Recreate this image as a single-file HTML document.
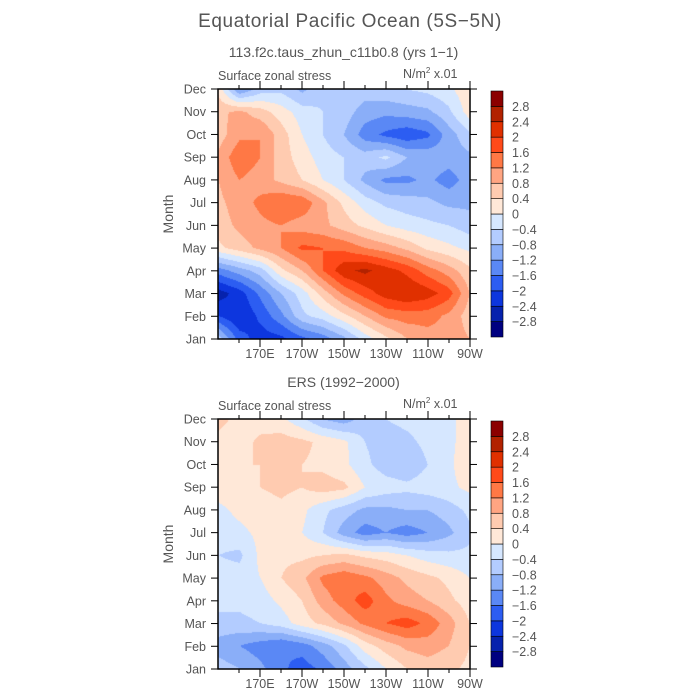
<!DOCTYPE html>
<html><head><meta charset="utf-8">
<style>
body{margin:0;background:#fff;}
#wrap{position:relative;width:700px;height:700px;overflow:hidden;font-family:"Liberation Sans",sans-serif;color:#555;}
.t{position:absolute;white-space:nowrap;}
canvas{position:absolute;}
svg{position:absolute;left:0;top:0;}
</style></head><body>
<div id="wrap">
<div class="t" style="left:189px;top:11px;width:322px;text-align:center;font-size:19px;letter-spacing:0.6px;color:#555;">Equatorial Pacific Ocean (5S&#8722;5N)</div>
<div class="t" style="left:200px;top:44px;width:287px;text-align:center;font-size:14px;color:#555;">113.f2c.taus_zhun_c11b0.8 (yrs 1&#8722;1)</div>
<div class="t" style="left:218px;top:69px;font-size:12.5px;color:#555;">Surface zonal stress</div>
<div class="t" style="left:403px;top:66px;font-size:12.5px;color:#555;">N/m<sup style="font-size:8px">2</sup> x.01</div>
<div class="t" style="left:200px;top:374px;width:287px;text-align:center;font-size:14px;color:#555;">ERS (1992&#8722;2000)</div>
<div class="t" style="left:218px;top:399px;font-size:12.5px;color:#555;">Surface zonal stress</div>
<div class="t" style="left:403px;top:396px;font-size:12.5px;color:#555;">N/m<sup style="font-size:8px">2</sup> x.01</div>
<canvas id="c1" width="252" height="250" style="left:218px;top:89px;"></canvas>
<canvas id="c2" width="252" height="250" style="left:218px;top:419px;"></canvas>
<svg id="s" width="700" height="700"></svg>
</div>
<script>
const lons=[150,160,170,180,190,200,210,220,230,240,250,260,270];
const months=["Jan","Feb","Mar","Apr","May","Jun","Jul","Aug","Sep","Oct","Nov","Dec"];
const levels=[-2.8,-2.4,-2,-1.6,-1.2,-0.8,-0.4,0,0.4,0.8,1.2,1.6,2,2.4,2.8];
const levelLabels=["2.8","2.4","2","1.6","1.2","0.8","0.4","0","\u22120.4","\u22120.8","\u22121.2","\u22121.6","\u22122","\u22122.4","\u22122.8"];
const colors=["#000080","#0622AD","#0D36DE","#2C5DF2","#5A88F5","#8AAEF8","#B3CCFF","#D6E7FF","#FFE8D8","#FFCBB0","#FFA582","#FF7845","#FF4A1A","#E03000","#B22200","#8B0000"];
const xTickLabels=["170E","170W","150W","130W","110W","90W"];
const xTickLons=[170,190,210,230,250,270];
const modelData=[
[-0.6,-1.8,-2.2,-2.1,-1.7,-1.4,-0.9,-0.2,0.3,0.8,1.0,1.0,0.8],
[-2.0,-2.4,-1.9,-1.3,-0.5,-0.2,0.3,0.8,1.3,1.4,1.4,1.1,0.6],
[-2.6,-2.2,-1.5,-0.8,-0.2,0.6,1.3,1.8,2.2,2.4,2.2,1.8,0.8],
[-1.4,-1.0,-0.6,0.3,0.8,1.6,2.3,2.5,2.2,1.9,1.4,1.0,0.5],
[0.3,0.6,0.9,1.2,1.7,1.6,1.5,1.2,1.0,0.7,0.3,0.1,-0.1],
[0.6,0.9,1.1,1.2,1.0,0.9,0.6,0.3,0.0,-0.2,-0.3,-0.4,-0.6],
[0.7,1.0,1.3,1.6,1.5,0.9,0.3,-0.2,-0.5,-0.6,-0.7,-0.9,-0.9],
[0.8,1.2,1.0,0.7,0.4,0.0,-0.4,-0.9,-1.3,-1.3,-1.1,-1.4,-1.0],
[0.9,1.5,1.2,0.6,0.2,-0.2,-0.4,-0.6,-0.3,-0.8,-0.9,-1.0,-0.9],
[0.6,1.1,1.2,0.6,0.0,-0.4,-0.8,-1.4,-1.7,-1.9,-1.7,-1.0,-0.5],
[0.7,0.9,0.6,0.2,-0.2,-0.4,-0.6,-1.0,-1.1,-1.0,-0.9,-0.5,0.2],
[0.3,-1.2,-0.6,-0.5,-0.9,-0.5,-0.4,-0.6,-0.5,-0.4,-0.3,-0.1,0.3]];
const ersData=[
[-0.6,-0.8,-1.1,-1.5,-1.8,-1.5,-1.0,-0.5,0.0,0.4,0.6,0.5,0.3],
[-1.0,-1.2,-1.4,-1.6,-1.4,-1.0,-0.5,0.2,0.6,0.9,1.0,0.8,0.4],
[-0.5,-0.5,-0.4,-0.2,0.2,0.5,0.9,1.3,1.6,1.8,1.5,1.0,0.4],
[-0.3,-0.3,-0.2,0.1,0.4,1.0,1.4,1.8,1.3,1.0,0.8,0.5,0.2],
[-0.2,-0.2,0.0,0.4,0.7,1.3,1.5,1.3,1.0,0.7,0.5,0.3,0.0],
[-0.4,-0.5,0.1,0.3,0.3,0.4,0.5,0.3,0.2,0.0,-0.2,-0.3,-0.3],
[-0.2,-0.1,0.1,0.3,0.0,-0.4,-1.0,-1.4,-1.2,-1.4,-1.2,-0.9,-0.5],
[-0.1,0.1,0.2,0.3,0.1,-0.3,-0.6,-0.9,-0.9,-0.8,-0.8,-0.6,-0.3],
[0.2,0.3,0.4,0.5,0.4,0.6,0.5,0.0,-0.2,-0.3,-0.2,-0.1,0.1],
[0.3,0.4,0.4,0.5,0.4,0.3,0.1,-0.3,-0.6,-0.7,-0.4,-0.1,0.3],
[0.3,0.2,0.5,0.6,0.5,0.3,0.1,-0.4,-0.6,-0.5,-0.3,-0.1,0.2],
[0.5,0.3,0.2,0.1,-0.3,-0.8,-1.0,-0.6,-0.4,-0.3,-0.2,-0.1,0.2]];

const PX=218,PW=252,PH=250;
function xOf(lon){return PX+(lon-lons[0])/(lons[lons.length-1]-lons[0])*PW;}
function yOf(m,top){return top+PH-m/(months.length-1)*PH;}
function levelIndex(v){let i=0;while(i<levels.length&&v>=levels[i])i++;return i;}
function hex(c){return [parseInt(c.substr(1,2),16),parseInt(c.substr(3,2),16),parseInt(c.substr(5,2),16)];}
function drawField(id,data){
  const cv=document.getElementById(id),ctx=cv.getContext('2d');
  const img=ctx.createImageData(PW,PH);const nc=lons.length-1,nr=months.length-1;
  for(let py=0;py<PH;py++){for(let px=0;px<PW;px++){
    const fx=px/(PW-1)*nc,fy=(PH-1-py)/(PH-1)*nr;
    const i=Math.min(Math.floor(fx),nc-1),j=Math.min(Math.floor(fy),nr-1);
    const tx=fx-i,ty=fy-j;
    const v=data[j][i]*(1-tx)*(1-ty)+data[j][i+1]*tx*(1-ty)+data[j+1][i]*(1-tx)*ty+data[j+1][i+1]*tx*ty;
    const c=hex(colors[levelIndex(v)]);const k=(py*PW+px)*4;
    img.data[k]=c[0];img.data[k+1]=c[1];img.data[k+2]=c[2];img.data[k+3]=255;}}
  ctx.putImageData(img,0,0);
}
drawField('c1',modelData);drawField('c2',ersData);

const NS="http://www.w3.org/2000/svg";const svg=document.getElementById('s');
function mk(tag,attrs,parent){const e=document.createElementNS(NS,tag);for(const k in attrs)e.setAttribute(k,attrs[k]);(parent||svg).appendChild(e);return e;}
[89,419].forEach((top,pi)=>{
  const g=mk('g',{});
  
  
  const fr=mk('rect',{x:PX,y:top,width:PW,height:PH,fill:'none',stroke:'#000','stroke-width':1.5},g);
  
  
  months.forEach((m,i)=>{const y=yOf(i,top);
    mk('line',{x1:PX-7,x2:PX,y1:y,y2:y,stroke:'#000'},g);
    mk('line',{x1:PX+PW,x2:PX+PW+7,y1:y,y2:y,stroke:'#000'},g);
    const t=mk('text',{x:PX-12,y:y+4.5,'text-anchor':'end','font-size':12.5,fill:'#555','font-family':'Liberation Sans'},g);t.textContent=m;
    
    });
  for(let lon=160;lon<270;lon+=10){const x=xOf(lon);
    mk('line',{x1:x,x2:x,y1:top+PH,y2:top+PH+4,stroke:'#000'},g);mk('line',{x1:x,x2:x,y1:top-4,y2:top,stroke:'#000'},g);}
  xTickLons.forEach((lon,i)=>{const x=xOf(lon);
    mk('line',{x1:x,x2:x,y1:top+PH,y2:top+PH+8,stroke:'#000'},g);mk('line',{x1:x,x2:x,y1:top-8,y2:top,stroke:'#000'},g);
    const t=mk('text',{x:x,y:top+PH+19,'text-anchor':'middle','font-size':12.5,fill:'#555','font-family':'Liberation Sans'},g);t.textContent=xTickLabels[i];
    
    });
  const yl=mk('text',{x:0,y:0,transform:`translate(173,${top+PH/2}) rotate(-90)`,'text-anchor':'middle','font-size':14,fill:'#555','font-family':'Liberation Sans'},g);yl.textContent='Month';
  
  
  const cb=mk('g',{},g);
  
  
  const bh=(PH-4)/colors.length,cbTop=top+2;
  colors.forEach((c,i)=>{const r=mk('rect',{x:491,y:cbTop+(colors.length-1-i)*bh,width:12,height:bh,fill:c,stroke:'#000','stroke-width':0.6},cb);
    
    });
  levelLabels.forEach((l,i)=>{const t=mk('text',{x:512,y:cbTop+(i+1)*bh+4.5,'font-size':12.5,fill:'#555','font-family':'Liberation Sans'},cb);t.textContent=l;
    
    });
});
</script>
</body></html>
